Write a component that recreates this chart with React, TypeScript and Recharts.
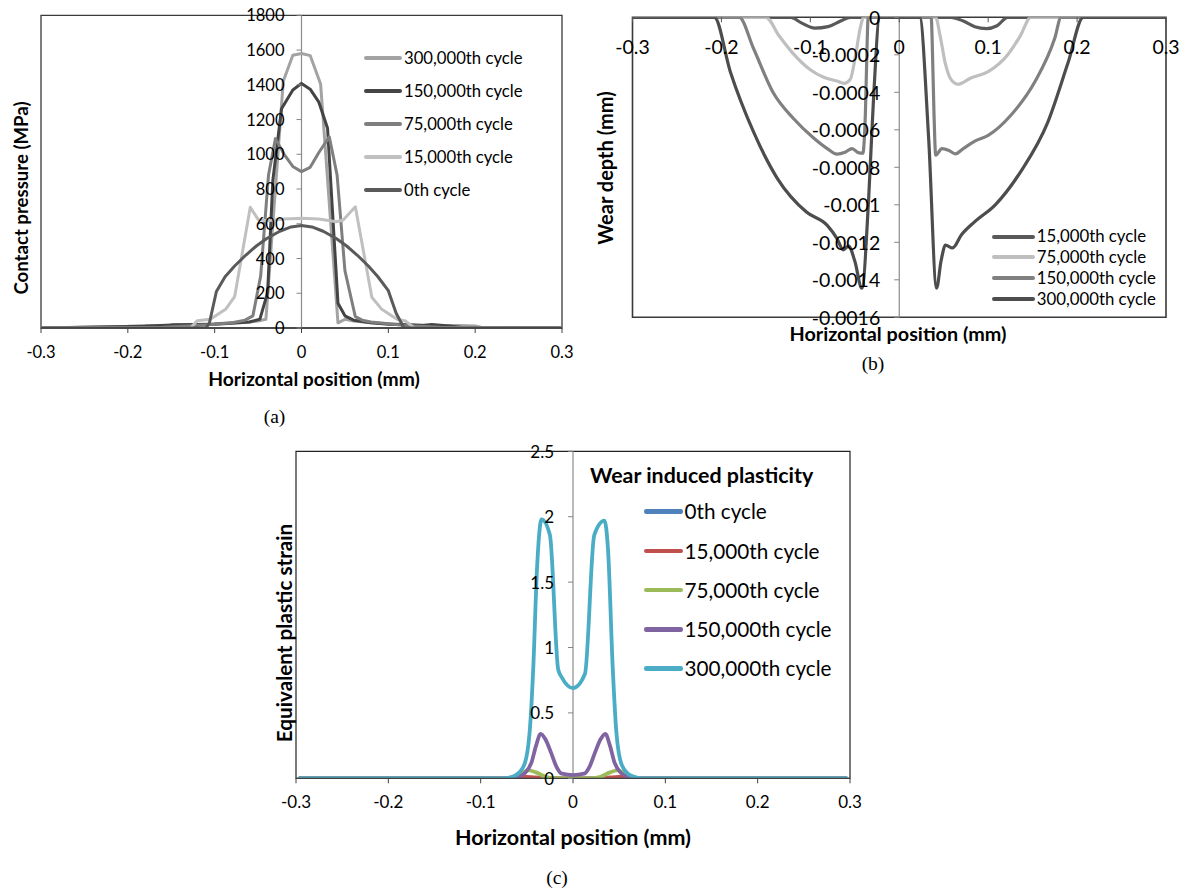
import React from 'react';
import {
  LineChart,
  Line,
  XAxis,
  YAxis,
  ReferenceLine,
  ReferenceDot,
  ReferenceArea,
  Legend,
} from 'recharts';

const FONT = "Lato, 'Open Sans', sans-serif";
const SERIF = "'Liberation Serif', 'Times New Roman', serif";

// ---------- shared axis values ----------
const positionTicks = [-0.3, -0.2, -0.1, 0, 0.1, 0.2, 0.3];

// ---------- (a) contact pressure, MPa ----------
const pressureTicks = [0, 200, 400, 600, 800, 1000, 1200, 1400, 1600, 1800];

const posP300 = [-0.3, -0.2, -0.18, -0.15, -0.12, -0.1, -0.08, -0.06, -0.05, -0.041, -0.021, -0.01, 0, 0.01, 0.022, 0.042, 0.05, 0.06, 0.08, 0.1, 0.12, 0.15, 0.18, 0.2, 0.21, 0.3];
const valP300 = [0, 10, 15, 15, 20, 25, 30, 35, 40, 50, 1420, 1570, 1580, 1568, 1405, 30, 50, 40, 30, 25, 20, 15, 15, 12, 0, 0];

const posP150 = [-0.3, -0.18, -0.15, -0.12, -0.1, -0.08, -0.06, -0.048, -0.039, -0.033, -0.023, -0.01, 0, 0.01, 0.02, 0.03, 0.042, 0.05, 0.06, 0.08, 0.1, 0.12, 0.14, 0.15, 0.17, 0.19, 0.3];
const valP150 = [0, 10, 18, 20, 22, 28, 35, 50, 205, 850, 1262, 1370, 1408, 1375, 1300, 1150, 143, 70, 45, 30, 22, 18, 15, 20, 12, 0, 0];

const posP75 = [-0.3, -0.16, -0.12, -0.1, -0.08, -0.065, -0.056, -0.047, -0.038, -0.03, -0.02, -0.01, 0, 0.01, 0.02, 0.032, 0.041, 0.05, 0.062, 0.07, 0.08, 0.1, 0.12, 0.16, 0.3];
const valP75 = [0, 5, 15, 22, 30, 45, 70, 300, 880, 1090, 1000, 930, 900, 925, 1010, 1100, 880, 330, 65, 45, 35, 25, 15, 5, 0];

const posP15 = [-0.3, -0.128, -0.12, -0.105, -0.087, -0.077, -0.059, -0.05, -0.04, -0.02, 0, 0.02, 0.04, 0.048, 0.062, 0.081, 0.092, 0.11, 0.12, 0.13, 0.3];
const valP15 = [0, 0, 42, 50, 110, 180, 695, 625, 618, 628, 632, 628, 612, 622, 698, 177, 110, 50, 40, 0, 0];

const posP0 = [-0.3, -0.11, -0.106, -0.098, -0.088, -0.077, -0.064, -0.052, -0.04, -0.025, -0.012, 0, 0.012, 0.025, 0.04, 0.052, 0.064, 0.077, 0.088, 0.1, 0.109, 0.118, 0.3];
const valP0 = [0, 0, 30, 210, 295, 357, 420, 472, 515, 557, 582, 590, 582, 557, 515, 472, 420, 357, 295, 215, 85, 0, 0];

// ---------- (b) wear depth, mm ----------
const wearTicks = [0, -0.0002, -0.0004, -0.0006, -0.0008, -0.001, -0.0012, -0.0014, -0.0016];

const posW15 = [-0.3, -0.122, -0.11, -0.095, -0.08, -0.066, -0.055, 0.058, 0.072, 0.085, 0.098, 0.11, 0.122, 0.3];
const valW15 = [0, 0, -0.00003, -0.000058, -0.00005, -0.00002, 0, 0, -0.00002, -0.00005, -0.00006, -0.000045, 0, 0];

const posW75 = [-0.3, -0.15, -0.135, -0.12, -0.1, -0.085, -0.07, -0.062, -0.055, -0.049, -0.044, -0.04, 0.041, 0.046, 0.052, 0.058, 0.066, 0.08, 0.1, 0.122, 0.136, 0.148, 0.3];
const valW75 = [0, 0, -0.0001, -0.00019, -0.00028, -0.00032, -0.00034, -0.000352, -0.00033, -0.0002, -0.00006, 0, 0, -0.0001, -0.00025, -0.00033, -0.000357, -0.000325, -0.00029, -0.0002, -0.0001, 0, 0];

const posW150 = [-0.3, -0.18, -0.164, -0.142, -0.119, -0.096, -0.081, -0.07, -0.061, -0.053, -0.046, -0.041, -0.038, -0.036, -0.035, 0.036, 0.037, 0.039, 0.041, 0.048, 0.056, 0.063, 0.072, 0.085, 0.1, 0.126, 0.153, 0.175, 0.182, 0.3];
const valW150 = [0, 0, -0.000165, -0.0004, -0.00054, -0.000645, -0.0007, -0.00073, -0.00072, -0.0007, -0.000722, -0.000725, -0.0005, -0.00012, 0, 0, -0.00012, -0.0005, -0.000735, -0.0007, -0.00071, -0.000728, -0.0007, -0.00066, -0.00063, -0.00052, -0.00034, -0.00011, 0, 0];

const posW300 = [-0.3, -0.208, -0.19, -0.164, -0.137, -0.104, -0.081, -0.07, -0.063, -0.057, -0.05, -0.042, -0.0345, -0.029, -0.022, 0.023, 0.033, 0.042, 0.047, 0.052, 0.06, 0.07, 0.085, 0.108, 0.137, 0.167, 0.19, 0.207, 0.3];
const valW300 = [0, 0, -0.00029, -0.00061, -0.00086, -0.00104, -0.00111, -0.00118, -0.00124, -0.00122, -0.0013, -0.001445, -0.000975, -0.00044, 0, 0, -0.00064, -0.001445, -0.0013, -0.001215, -0.00123, -0.00116, -0.00109, -0.001, -0.00082, -0.00056, -0.00024, 0, 0];

// ---------- (c) equivalent plastic strain ----------
const strainTicks = [0, 0.5, 1, 1.5, 2, 2.5];

const posS0 = [-0.296, 0, 0.296];
const valS0 = [0, 0, 0];

const posS15 = [-0.296, -0.07, -0.06, -0.05, -0.04, -0.03, 0.03, 0.04, 0.05, 0.06, 0.07, 0.296];
const valS15 = [0, 0, 0.008, 0.01, 0.006, 0, 0, 0.006, 0.01, 0.008, 0, 0];

const posS75 = [-0.296, -0.075, -0.065, -0.056, -0.048, -0.04, -0.03, -0.02, 0, 0.02, 0.03, 0.04, 0.048, 0.056, 0.065, 0.075, 0.296];
const valS75 = [0, 0, 0.01, 0.04, 0.06, 0.045, 0.012, 0, 0, 0, 0.012, 0.045, 0.06, 0.04, 0.01, 0, 0];

const posS150 = [-0.296, -0.07, -0.06, -0.052, -0.045, -0.04, -0.035, -0.03, -0.024, -0.018, -0.012, 0, 0.012, 0.018, 0.024, 0.03, 0.035, 0.04, 0.045, 0.052, 0.06, 0.07, 0.296];
const valS150 = [0, 0, 0.01, 0.04, 0.12, 0.25, 0.34, 0.3, 0.2, 0.09, 0.035, 0.025, 0.035, 0.09, 0.2, 0.3, 0.34, 0.25, 0.12, 0.04, 0.01, 0, 0];

const posS300 = [-0.296, -0.075, -0.063, -0.053, -0.047, -0.043, -0.039, -0.034, -0.025, -0.016, -0.012, 0, 0.013, 0.023, 0.034, 0.038, 0.043, 0.047, 0.053, 0.063, 0.075, 0.296];
const valS300 = [0, 0, 0.02, 0.1, 0.35, 0.85, 1.6, 1.98, 1.86, 0.83, 0.77, 0.69, 0.8, 1.86, 1.97, 1.74, 0.85, 0.35, 0.1, 0.02, 0, 0];

// ---------- helpers ----------
const zip = (xs: number[], ys: number[]) => xs.map((x, i) => ({ x, y: ys[i] }));

type Series = { name: string; color: string; data: { x: number; y: number }[] };

const pressureSeries: Series[] = [
  { name: '300,000th cycle', color: '#a3a3a3', data: zip(posP300, valP300) },
  { name: '150,000th cycle', color: '#444444', data: zip(posP150, valP150) },
  { name: '75,000th cycle', color: '#7f7f7f', data: zip(posP75, valP75) },
  { name: '15,000th cycle', color: '#c0c0c0', data: zip(posP15, valP15) },
  { name: '0th cycle', color: '#5a5a5a', data: zip(posP0, valP0) },
];

const wearSeries: Series[] = [
  { name: '15,000th cycle', color: '#595959', data: zip(posW15, valW15) },
  { name: '75,000th cycle', color: '#bfbfbf', data: zip(posW75, valW75) },
  { name: '150,000th cycle', color: '#808080', data: zip(posW150, valW150) },
  { name: '300,000th cycle', color: '#4d4d4d', data: zip(posW300, valW300) },
];

const strainSeries: Series[] = [
  { name: '0th cycle', color: '#4f81bd', data: zip(posS0, valS0) },
  { name: '15,000th cycle', color: '#c0504d', data: zip(posS15, valS15) },
  { name: '75,000th cycle', color: '#9bbb59', data: zip(posS75, valS75) },
  { name: '150,000th cycle', color: '#8064a2', data: zip(posS150, valS150) },
  { name: '300,000th cycle', color: '#4bacc6', data: zip(posS300, valS300) },
];

// Vertical-axis tick drawn at the x = 0 crossing: short mark to the left + label.
const yTickShape = (label: string, fontSize: number, gap: number) => (props: any) => {
  const { cx, cy } = props;
  return (
    <g>
      <line x1={cx - 5} x2={cx} y1={cy} y2={cy} stroke="#868686" strokeWidth={1} />
      <text
        x={cx - gap}
        y={cy}
        textAnchor="end"
        dominantBaseline="central"
        fontSize={fontSize}
        fontFamily={FONT}
        fill="#000"
      >
        {label}
      </text>
    </g>
  );
};

// Horizontal-axis tick for the top axis of (b): mark pointing down, label below it.
const xTopTickShape = (label: string, fontSize: number, drop: number) => (props: any) => {
  const { cx, cy } = props;
  return (
    <g>
      <line x1={cx} x2={cx} y1={cy} y2={cy + 5} stroke="#555" strokeWidth={1} />
      <text
        x={cx}
        y={cy + drop}
        textAnchor="middle"
        dominantBaseline="central"
        fontSize={fontSize}
        fontFamily={FONT}
        fill="#000"
      >
        {label}
      </text>
    </g>
  );
};

type LegendCfg = {
  items: Series[];
  rowHeight: number;
  swatch: number;
  thickness: number;
  fontSize: number;
  title?: string;
  titleSize?: number;
  titleLeft?: number;
  titleTop?: number;
};

const LegendBlock = ({ cfg }: { cfg: LegendCfg }) => (
  <div style={{ position: 'relative', fontFamily: FONT, color: '#000' }}>
    {cfg.title ? (
      <div
        style={{
          position: 'absolute',
          left: cfg.titleLeft,
          top: cfg.titleTop,
          height: 28,
          lineHeight: '28px',
          fontWeight: 700,
          fontSize: cfg.titleSize,
          whiteSpace: 'nowrap',
        }}
      >
        {cfg.title}
      </div>
    ) : null}
    {cfg.items.map((it) => (
      <div key={it.name} style={{ display: 'flex', alignItems: 'center', height: cfg.rowHeight }}>
        <span
          style={{
            display: 'inline-block',
            width: cfg.swatch,
            height: cfg.thickness,
            background: it.color,
            borderRadius: cfg.thickness / 2,
            marginRight: 2,
          }}
        />
        <span style={{ fontSize: cfg.fontSize, lineHeight: 1, whiteSpace: 'nowrap' }}>{it.name}</span>
      </div>
    ))}
  </div>
);

const tickText = (size: number) => ({ fontSize: size, fontFamily: FONT, fill: '#000' });

// ---------- (a) ----------
function PressureChart() {
  return (
    <LineChart width={600} height={400} margin={{ top: 15.3, right: 38, bottom: 32, left: 41 }}>
      <XAxis
        type="number"
        dataKey="x"
        domain={[-0.3, 0.3]}
        ticks={positionTicks}
        interval={0}
        allowDataOverflow
        height={40}
        tickSize={5}
        tickMargin={13}
        tick={tickText(16.5)}
        tickLine={{ stroke: '#404040' }}
        axisLine={{ stroke: '#404040', strokeWidth: 1.5 }}
      />
      <YAxis type="number" domain={[0, 1800]} hide allowDataOverflow />
      <ReferenceArea x1={-0.3} x2={0.3} y1={0} y2={1800} fill="none" fillOpacity={0} stroke="#3a3a3a" strokeWidth={1.3} ifOverflow="visible" />
      <ReferenceLine x={0} stroke="#8c8c8c" strokeWidth={1.2} ifOverflow="visible" />
      {pressureTicks.map((v) => (
        <ReferenceDot key={v} x={0} y={v} r={0} ifOverflow="visible" shape={yTickShape(String(v), 16.5, 17)} />
      ))}
      {pressureSeries.map((s) => (
        <Line
          key={s.name}
          data={s.data}
          dataKey="y"
          name={s.name}
          type="linear"
          stroke={s.color}
          strokeWidth={3}
          strokeLinejoin="round"
          dot={false}
          activeDot={false}
          isAnimationActive={false}
        />
      ))}
      <Legend
        layout="vertical"
        align="center"
        verticalAlign="middle"
        wrapperStyle={{ left: 364, top: 41.5, width: 'auto' }}
        content={() => (
          <LegendBlock cfg={{ items: pressureSeries, rowHeight: 33, swatch: 38, thickness: 4, fontSize: 16.7 }} />
        )}
      />
    </LineChart>
  );
}

// ---------- (b) ----------
function WearChart() {
  return (
    <LineChart width={591} height={380} margin={{ top: 17.3, right: 25, bottom: 62.7, left: 32.5 }}>
      <XAxis type="number" dataKey="x" domain={[-0.3, 0.3]} hide allowDataOverflow />
      <YAxis type="number" domain={[-0.0016, 0]} hide allowDataOverflow />
      <ReferenceArea x1={-0.3} x2={0.3} y1={-0.0016} y2={0} fill="none" fillOpacity={0} stroke="#3a3a3a" strokeWidth={1.6} ifOverflow="visible" />
      <ReferenceLine x={0} stroke="#8c8c8c" strokeWidth={1.2} ifOverflow="visible" />
      {wearTicks.map((v) => (
        <ReferenceDot key={v} x={0} y={v} r={0} ifOverflow="visible" shape={yTickShape(String(v), 19.5, 19)} />
      ))}
      {positionTicks.map((v) => (
        <ReferenceDot key={'x' + v} x={v} y={0} r={0} ifOverflow="visible" shape={xTopTickShape(String(v), 19.5, 29.4)} />
      ))}
      {wearSeries.map((s) => (
        <Line
          key={s.name}
          data={s.data}
          dataKey="y"
          name={s.name}
          type="monotone"
          stroke={s.color}
          strokeWidth={3.2}
          strokeLinejoin="round"
          dot={false}
          activeDot={false}
          isAnimationActive={false}
        />
      ))}
      <Legend
        layout="vertical"
        align="center"
        verticalAlign="middle"
        wrapperStyle={{ left: 391.7, top: 226.3, width: 'auto' }}
        content={() => (
          <LegendBlock cfg={{ items: wearSeries, rowHeight: 20.8, swatch: 43, thickness: 4, fontSize: 16.8 }} />
        )}
      />
    </LineChart>
  );
}

// ---------- (c) ----------
function StrainChart() {
  return (
    <LineChart width={640} height={450} margin={{ top: 11.3, right: 40, bottom: 71.7, left: 46 }}>
      <XAxis
        type="number"
        dataKey="x"
        domain={[-0.3, 0.3]}
        ticks={positionTicks}
        interval={0}
        allowDataOverflow
        height={40}
        tickSize={5}
        tickMargin={13}
        tick={tickText(17)}
        tickLine={{ stroke: '#404040' }}
        axisLine={{ stroke: '#404040', strokeWidth: 1.3 }}
      />
      <YAxis type="number" domain={[0, 2.5]} hide allowDataOverflow />
      <ReferenceArea x1={-0.3} x2={0.3} y1={0} y2={2.5} fill="none" fillOpacity={0} stroke="#222" strokeWidth={1.2} ifOverflow="visible" />
      <ReferenceLine x={0} stroke="#8c8c8c" strokeWidth={1.2} ifOverflow="visible" />
      {strainTicks.map((v) => (
        <ReferenceDot key={v} x={0} y={v} r={0} ifOverflow="visible" shape={yTickShape(String(v), 17, 19)} />
      ))}
      {strainSeries.map((s) => (
        <Line
          key={s.name}
          data={s.data}
          dataKey="y"
          name={s.name}
          type="monotone"
          stroke={s.color}
          strokeWidth={3.8}
          strokeLinejoin="round"
          strokeLinecap="round"
          dot={false}
          activeDot={false}
          isAnimationActive={false}
        />
      ))}
      <Legend
        layout="vertical"
        align="center"
        verticalAlign="middle"
        wrapperStyle={{ left: 393.6, top: 52.1, width: 'auto' }}
        content={() => (
          <LegendBlock
            cfg={{
              items: strainSeries,
              rowHeight: 39.2,
              swatch: 39,
              thickness: 4.5,
              fontSize: 20.7,
              title: 'Wear induced plasticity',
              titleSize: 21.4,
              titleLeft: -53.6,
              titleTop: -31,
            }}
          />
        )}
      />
    </LineChart>
  );
}

// Axis titles and panel captions.
const AxisTitle = ({ x, y, size, text, rotate }: { x: number; y: number; size: number; text: string; rotate?: boolean }) => (
  <text
    x={x}
    y={y}
    textAnchor="middle"
    dominantBaseline="central"
    fontFamily={FONT}
    fontWeight={700}
    fontSize={size}
    fill="#000"
    transform={rotate ? `rotate(-90 ${x} ${y})` : undefined}
  >
    {text}
  </text>
);

const Caption = ({ x, y, text }: { x: number; y: number; text: string }) => (
  <text x={x} y={y} textAnchor="middle" dominantBaseline="central" fontFamily={SERIF} fontSize={19.5} fill="#000">
    {text}
  </text>
);

export default function App() {
  return (
    <div style={{ position: 'absolute', left: 0, top: 0, width: 1191, height: 892, background: '#fff', overflow: 'hidden' }}>
      <div style={{ position: 'absolute', left: 0, top: 0 }}>
        <PressureChart />
      </div>
      <div style={{ position: 'absolute', left: 600, top: 0 }}>
        <WearChart />
      </div>
      <div style={{ position: 'absolute', left: 250, top: 440 }}>
        <StrainChart />
      </div>
      <svg width={1191} height={892} style={{ position: 'absolute', left: 0, top: 0, pointerEvents: 'none' }}>
        <AxisTitle x={21} y={198} size={18.6} text="Contact pressure (MPa)" rotate />
        <AxisTitle x={314} y={378} size={19.3} text="Horizontal position (mm)" />
        <Caption x={274.5} y={416} text="(a)" />

        <AxisTitle x={605} y={168} size={20} text="Wear depth (mm)" rotate />
        <AxisTitle x={898} y={333} size={19.8} text="Horizontal position (mm)" />
        <Caption x={873} y={363} text="(b)" />

        <AxisTitle x={284} y={633} size={20.7} text="Equivalent plastic strain" rotate />
        <AxisTitle x={573} y={837} size={21.5} text="Horizontal position (mm)" />
        <Caption x={557} y={877} text="(c)" />
      </svg>
    </div>
  );
}
